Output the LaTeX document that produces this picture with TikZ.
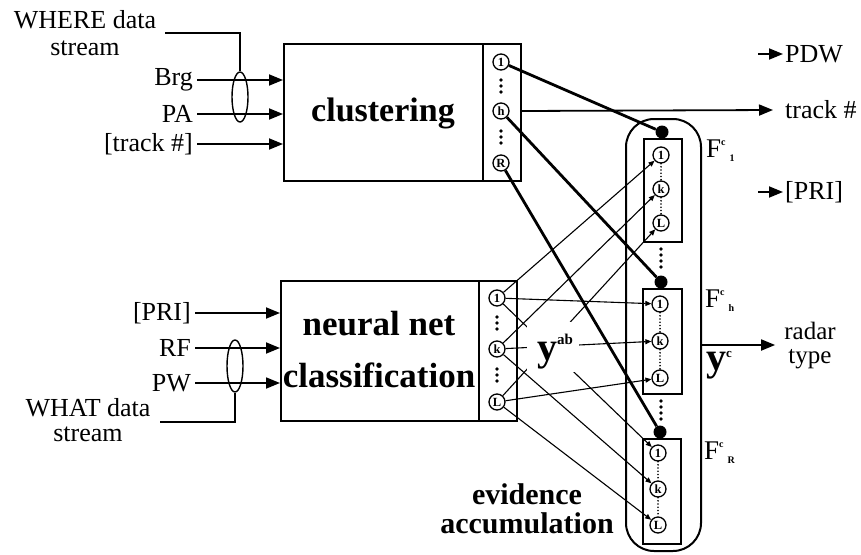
\documentclass[tikz,border=0pt]{standalone}
\usepackage{fontspec}
\setmainfont{Liberation Serif}
\usetikzlibrary{arrows.meta,shapes.geometric,calc}

\begin{document}
\begin{tikzpicture}[x=1pt,y=-1pt,
  box/.style={draw, line width=2pt, inner sep=0pt, anchor=north west},
  cell/.style={circle, draw, line width=1.3pt, minimum size=16pt, inner sep=0pt,
               font=\fontsize{12.5}{12.5}\selectfont\bfseries},
  lbl/.style={font=\fontsize{26}{27}\selectfont, inner sep=0pt},
  big/.style={font=\fontsize{34}{52}\selectfont\bfseries, inner sep=0pt, align=center},
  inarrow/.style={line width=1.8pt, -{Triangle[length=14pt,width=11pt]}},
  evid/.style={line width=1.1pt, -{Triangle[length=6pt,width=5pt]}},
  heavy/.style={line width=2.8pt},
  knot/.style={circle, fill, minimum size=13pt, inner sep=0pt},
  bundle/.style={ellipse, draw, line width=1.4pt, minimum width=16pt,
                 minimum height=50pt, inner sep=0pt},
  chain/.style={line width=1.8pt, line cap=round, dash pattern=on 0pt off 3.2pt},
]
\useasboundingbox (0,0) rectangle (861,554);

% ---------- clustering block ----------
\node[box, minimum width=199pt, minimum height=137pt] (clu) at (283,43) {};
\node[big] (clutxt) at (383,113) {clustering};
\node[box, minimum width=38pt, minimum height=137pt] (clus) at (482,43) {};
\node[cell] (c1) at (501,62) {1};
\node[cell] (ch) at (501,111) {h};
\node[cell] (cR) at (501,163) {R};
\foreach \y in {80,86,92,131,137,143} \fill (501,\y) circle (1.8pt);

% ---------- neural net block ----------
\node[box, minimum width=198pt, minimum height=140pt] (nn) at (280,280) {};
\node[big, font=\fontsize{35}{52}\selectfont\bfseries] (nntxt) at (379,350) {neural net\\classification};
\node[box, minimum width=38pt, minimum height=140pt] (nns) at (478,280) {};
\node[cell] (n1) at (497,298) {1};
\node[cell] (nk) at (497,349) {k};
\node[cell] (nL) at (497,402) {L};
\foreach \y in {317,323,329,369,375,381} \fill (497,\y) circle (1.8pt);

% ---------- inputs of the clustering block ----------
\node[lbl, anchor=east] (brg) at (193,80) {Brg};
\node[lbl, anchor=east] (pa) at (193,114) {PA};
\node[lbl, anchor=east] (trkin) at (193,144) {[track \#]};
\foreach \s in {brg,pa,trkin} \draw[inarrow] (\s.east) ++(4pt,0) -- (\s -| clu.west);
\node[bundle] (where) at (240,97) {};
\node[lbl, align=center] (wtxt) at (85,33) {WHERE data\\stream};
\coordinate (wstart) at (165,33);
\draw[line width=1.4pt] (wstart) -| (where.north);

% ---------- inputs of the neural net block ----------
\node[lbl, anchor=east] (pri) at (191,313) {[PRI]};
\node[lbl, anchor=east] (rf) at (191,348) {RF};
\node[lbl, anchor=east] (pw) at (191,383) {PW};
\foreach \s in {pri,rf,pw} \draw[inarrow] (\s.east) ++(4pt,0) -- (\s -| nn.west);
\node[bundle, minimum height=52pt] (what) at (235,366) {};
\node[lbl, align=center, font=\fontsize{26}{25}\selectfont] (htxt) at (88,420) {WHAT data\\stream};
\coordinate (hstart) at (160,422);
\draw[line width=1.4pt] (hstart) -| (what.south);

% ---------- evidence accumulation ----------
\node[draw, line width=2pt, rounded corners=28pt, minimum width=75pt,
      minimum height=432pt, anchor=north west] (acc) at (625,118) {};

\node[box, minimum width=38pt, minimum height=103pt] (fa) at (643,138) {};
\node[box, minimum width=39pt, minimum height=105pt] (fb) at (642,288) {};
\node[box, minimum width=38pt, minimum height=105pt] (fc) at (642,438) {};

\node[cell] (p1) at (661,155) {1};
\node[cell] (pk) at (661,189) {k};
\node[cell] (pL) at (661,223) {L};
\node[cell] (q1) at (660,304) {1};
\node[cell] (qk) at (660,341) {k};
\node[cell] (qL) at (660,378) {L};
\node[cell] (s1) at (658,453) {1};
\node[cell] (sk) at (658,489) {k};
\node[cell] (sL) at (658,525) {L};
\foreach \b in {p,q,s} \draw[chain] (\b1) -- (\b k) (\b k) -- (\b L);

\node[knot] (ka) at (662,132) {};
\node[knot] (kb) at (661,282) {};
\node[knot] (kc) at (660,432) {};

\foreach \y in {249,255,261,267,401,407,413,419} \fill (661,\y) circle (1.9pt);

% evidence from the classifier outputs to every track's accumulator
\foreach \a in {1,k,L} {
  \foreach \b in {p,q,s} {
    \draw[evid] (n\a) -- (\b\a);
  }
}

% cluster outputs select the track accumulators
\draw[heavy] (c1) -- (ka);
\draw[heavy] (ch) -- (kb);
\draw[heavy] (cR) -- (kc);

\node[fill=white, minimum width=52pt, minimum height=50pt, inner sep=0pt] (yabbg) at (553,347) {};
\node[anchor=base west, inner sep=0pt] (yab) at (537,360)
  {\fontsize{40}{40}\selectfont\bfseries y\raisebox{16pt}{\fontsize{15}{15}\selectfont ab}};

\node[big, font=\fontsize{30}{29}\selectfont\bfseries] (evtxt) at (527,509) {evidence\\accumulation};

% ---------- track labels ----------
\node[anchor=base west, inner sep=0pt] (fla) at (706,157)
  {\fontsize{27}{27}\selectfont F\raisebox{12pt}{\fontsize{10}{10}\selectfont\bfseries c}\hspace{4pt}\raisebox{-4pt}{\fontsize{10}{10}\selectfont\bfseries 1}};
\node[anchor=base west, inner sep=0pt] (flb) at (705,307)
  {\fontsize{27}{27}\selectfont F\raisebox{12pt}{\fontsize{10}{10}\selectfont\bfseries c}\hspace{4pt}\raisebox{-4pt}{\fontsize{10}{10}\selectfont\bfseries h}};
\node[anchor=base west, inner sep=0pt] (flc) at (704,459)
  {\fontsize{27}{27}\selectfont F\raisebox{12pt}{\fontsize{10}{10}\selectfont\bfseries c}\hspace{4pt}\raisebox{-4pt}{\fontsize{10}{10}\selectfont\bfseries R}};

% ---------- outputs ----------
\node[lbl, anchor=west] (pdw) at (785,54) {PDW};
\draw[inarrow] ([xshift=-27pt]pdw.west) -- ([xshift=-2pt]pdw.west);
\node[lbl, anchor=west] (trk) at (785,110) {track \#};
\draw[inarrow] (clus.east |- ch) -- ([xshift=-12pt]trk.west);
\node[lbl, anchor=west] (prio) at (785,192) {[PRI]};
\draw[inarrow] ([xshift=-27pt]prio.west) -- ([xshift=-2pt]prio.west);

\node[lbl, align=center, font=\fontsize{25}{24}\selectfont] (radar) at (810,346) {radar\\type};
\coordinate (yout) at (700,345);
\draw[inarrow] (yout) -- ([xshift=-9pt]radar.west |- yout);
\node[anchor=base west, inner sep=0pt] (yc) at (706,370)
  {\fontsize{40}{40}\selectfont\bfseries y\raisebox{13pt}{\fontsize{13}{13}\selectfont c}};
\end{tikzpicture}
\end{document}
